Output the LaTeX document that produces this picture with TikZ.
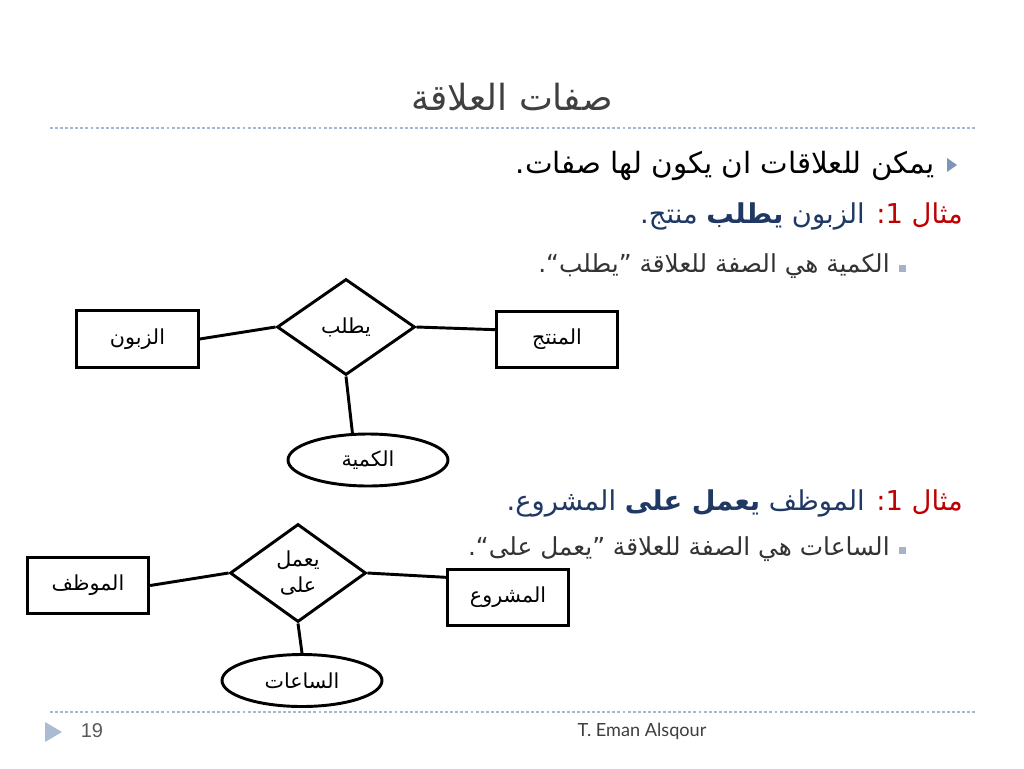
\documentclass[tikz,border=0pt]{standalone}
\usepackage{fontspec}
\usetikzlibrary{shapes.geometric}
\TeXXeTstate=1
\setmainfont{Liberation Sans}
\newfontfamily\arfont[Script=Arabic]{DejaVu Sans}
\newfontfamily\footfont{Lato}
\definecolor{titlegrey}{HTML}{404040}
\definecolor{exred}{HTML}{C00000}
\definecolor{exblue}{HTML}{1F3864}
\definecolor{dashc}{HTML}{A6B9D3}
\definecolor{bulc}{HTML}{7F95B8}
\definecolor{sqc}{HTML}{A3B3CC}
\definecolor{txtgrey}{HTML}{333333}
\definecolor{footgrey}{HTML}{595959}
\definecolor{foottri}{HTML}{A9BCD4}
\tikzset{
  erline/.style={line width=2.2pt, draw=black},
  entity/.style={draw=black, line width=2.2pt, rectangle, minimum width=91pt, minimum height=42.5pt, inner sep=0pt, font=\fontsize{15.5}{18}\selectfont\arfont},
  relation/.style={draw=black, line width=2.2pt, diamond, inner sep=0pt, font=\fontsize{15.5}{19}\selectfont\arfont, align=center},
  attribute/.style={draw=black, line width=2.2pt, ellipse, minimum width=120pt, minimum height=39pt, inner sep=0pt, font=\fontsize{15.5}{18}\selectfont\arfont},
  rule/.style={draw=dashc, line width=0.8pt, dash pattern=on 2.2pt off 1.6pt},
  bigline/.style={anchor=east, inner sep=0pt, font=\fontsize{22}{26}\selectfont\arfont},
  exline/.style={anchor=east, inner sep=0pt, font=\fontsize{20.5}{24}\selectfont\arfont},
  subline/.style={anchor=east, inner sep=0pt, font=\fontsize{18.6}{22}\selectfont\arfont, text=txtgrey}
}
\begin{document}
\begin{tikzpicture}[x=0.75pt,y=-0.75pt]
\useasboundingbox[fill=white] (0,0) rectangle (1024,768);

% title and rules
\node[inner sep=0pt, text=titlegrey, font=\fontsize{27}{32}\selectfont\arfont] (title) at (512,97) {\beginR صفات العلاقة\endR};
\draw[rule] (50,128) -- (975,128);
\draw[rule] (50,712) -- (975,712);

% bullets
\fill[bulc] (947,158) -- (957,165) -- (947,172) -- cycle;
\fill[sqc] (899,265) rectangle (906,272);
\fill[sqc] (899,547) rectangle (906,554);

% text lines
\node[bigline] (l1) at (935,166) {\beginR يمكن للعلاقات ان يكون لها صفات.\endR};
\node[exline] (l2) at (963,216) {{\color{exblue}\beginR الزبون {\bfseries يطلب} منتج.\endR} {\color{exred}\beginR مثال 1\kern0pt:\endR}};
\node[subline] (l3) at (890,266) {\beginR الكمية هي الصفة للعلاقة ”يطلب“.\endR};
\node[exline] (l4) at (963,503) {{\color{exblue}\beginR الموظف {\bfseries يعمل على} المشروع.\endR} {\color{exred}\beginR مثال 1\kern0pt:\endR}};
\node[subline] (l5) at (890,549) {\beginR الساعات هي الصفة للعلاقة ”يعمل على“.\endR};

% diagram 1
\node[entity] (zab) at (137.5,339) {الزبون};
\node[entity] (mun) at (557,339.5) {المنتج};
\node[relation, minimum width=103.5pt, minimum height=72pt] (d1) at (346,327) {يطلب};
\node[attribute] (kam) at (368,460) {الكمية};
\draw[erline] (zab.east) -- (d1.west);
\draw[erline] (d1.east) -- (mun.171);
\draw[erline] (d1.south) -- (kam.120);

% diagram 2
\node[entity] (muw) at (88,585.5) {الموظف};
\node[entity] (mas) at (508,597.5) {المشروع};
\node[relation, minimum width=102pt, minimum height=73.5pt] (d2) at (298,573) {يعمل\\على};
\node[attribute] (saa) at (302,680.5) {الساعات};
\draw[erline] (muw.east) -- (d2.west);
\draw[erline] (d2.east) -- (mas.162);
\draw[erline] (d2.south) -- (saa.north);

% footer
\fill[foottri] (45,722) -- (62,732) -- (45,742) -- cycle;
\node[inner sep=0pt, text=footgrey, font=\fontsize{15}{18}\selectfont] (pg) at (92,731) {19};
\node[inner sep=0pt, text=footgrey!70!black, font=\fontsize{13.6}{16}\selectfont\footfont] (auth) at (642,731) {T. Eman Alsqour};
\end{tikzpicture}
\end{document}
